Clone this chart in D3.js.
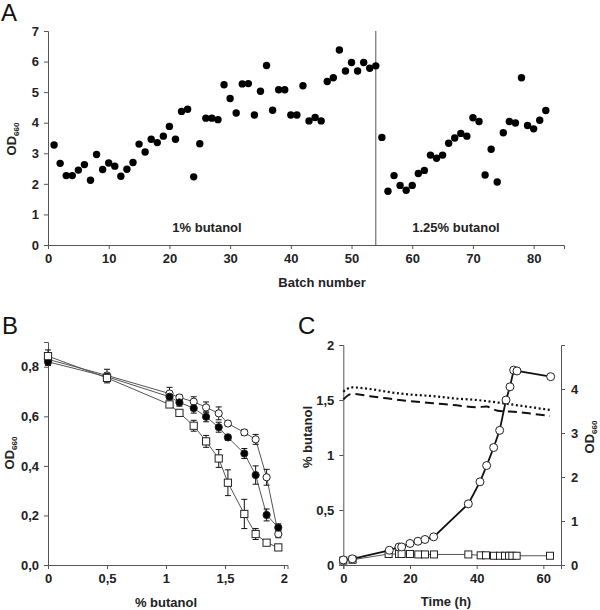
<!DOCTYPE html>
<html><head><meta charset="utf-8">
<script src="https://cdn.jsdelivr.net/npm/d3@7"></script>
<style>
body{margin:0;background:#fff;}
text{font-family:"Liberation Sans",Arial,sans-serif;}
</style></head>
<body><svg id="c" width="600" height="610"></svg>
<script>
// ---------- Panel A data ----------
const batchNumbers = d3.range(1, 83);
const batchOD = [3.27,2.67,2.27,2.27,2.45,2.63,2.12,2.96,2.47,2.68,2.58,2.25,2.48,2.70,3.30,3.04,3.46,3.35,3.56,3.88,
 3.46,4.37,4.44,2.23,3.31,4.15,4.15,4.10,5.24,4.79,4.32,5.27,5.28,4.25,5.03,5.87,4.41,5.08,5.08,4.25,
 4.25,5.21,4.06,4.17,4.06,5.35,5.47,6.38,5.69,5.97,5.69,5.97,5.78,5.86,3.52,1.76,2.27,1.95,1.79,1.95,
 2.34,2.44,2.94,2.84,2.94,3.33,3.50,3.65,3.56,4.16,4.04,2.29,3.13,2.06,3.67,4.04,3.99,5.47,3.91,3.80,
 4.08,4.40];
const switchBatch = 54;
const aTicksX = [0,10,20,30,40,50,60,70,80];
const aTicksY = [0,1,2,3,4,5,6,7];

// ---------- Panel B data ----------
const bButanol = [0,0.5,1.03,1.114,1.235,1.34,1.447,1.525,1.664,1.76,1.853,1.952];
const bOpen   = [0.83,0.765,0.692,0.676,0.659,0.636,0.612,0.571,0.535,0.507,0.354,0.125];
const bOpenErr= [0.02,0.025,0.025,0.01,0.02,0.022,0.026,0.01,0.012,0.02,0.032,0.015];
const bFilled = [0.82,0.76,0.679,0.656,0.633,0.598,0.556,0.515,0.45,0.363,0.202,0.151];
const bFilledErr=[0.015,0.015,0.02,0.015,0.02,0.02,0.02,0.012,0.02,0.037,0.024,0.015];
const bSquare = [0.843,0.755,0.648,0.614,0.562,0.499,0.43,0.332,0.206,0.125,0.09,0.071];
const bSquareErr=[0.025,0.02,0.012,0.01,0.022,0.024,0.036,0.052,0.059,0.022,0.01,0.01];
const bTicksX = [0,0.5,1,1.5,2];
const bTicksY = [0,0.2,0.4,0.6,0.8];

// ---------- Panel C data ----------
const cTime = [0,2.7,13.8,16.7,17.5,20,22.4,24.5,27.1,37.5,41,43,45.1,46.9,48.8,50,51.1,52.1,62.2];
const cODcircle = [0.115,0.14,0.335,0.41,0.41,0.49,0.54,0.58,0.64,1.39,1.89,2.26,2.67,3.06,3.75,4.05,4.43,4.41,4.28];
const cTimeSq = [0,2.8,13.6,16.7,17.5,20,22.5,24.5,27.2,37.5,41.2,42.8,45.2,47,48.5,49.7,50.7,52,62];
const cODsquare = [0.1,0.12,0.25,0.25,0.25,0.25,0.24,0.24,0.24,0.24,0.22,0.22,0.21,0.21,0.21,0.21,0.21,0.21,0.21];
const cDotT = [0,2.5,8,13,20,27,33,40,48,55,62];
const cDotV = [1.575,1.615,1.6,1.575,1.55,1.535,1.515,1.5,1.47,1.44,1.41];
const cDashT = [0,2.5,8,13,20,27,33,40,43,46,52,62];
const cDashV = [1.505,1.555,1.535,1.515,1.49,1.47,1.455,1.435,1.44,1.405,1.39,1.355];
const cTicksX = [0,20,40,60];
const cTicksYL = [0,0.5,1,1.5,2];
const cTicksYR = [0,1,2,3,4];

const svg = d3.select("#c");
const axisCol = "#555", txtCol = "#222";
const fmtComma = d => String(d).replace(".", ",");
const fmtInt = d => String(d);
const FS = 13;

function styleAxis(g){
  g.select(".domain").attr("stroke", axisCol).attr("stroke-width",1);
  g.selectAll(".tick line").attr("stroke", axisCol);
  g.selectAll(".tick text").attr("fill", txtCol).attr("font-size", FS).attr("font-weight","bold")
    .attr("font-family","Liberation Sans, Arial, sans-serif");
}
function odLabel(x, y, rot){
  const t = svg.append("text").attr("transform",`translate(${x},${y}) rotate(${rot})`)
    .attr("text-anchor","middle").attr("fill",txtCol).attr("font-weight","bold").attr("font-size",FS);
  t.append("tspan").text("OD");
  t.append("tspan").attr("font-size",8).attr("dy",3).text("660");
}
function panelLetter(s, x, y){
  svg.append("text").attr("x",x).attr("y",y).attr("font-size",24).attr("fill","#111").text(s);
}
function title(s, x, y){
  svg.append("text").attr("x",x).attr("y",y).attr("text-anchor","middle").attr("font-weight","bold")
    .attr("font-size",FS).attr("fill",txtCol).text(s);
}

// ================= Panel A =================
{
  const x = d3.scaleLinear().domain([0,85]).range([48,564]);
  const y = d3.scaleLinear().domain([0,7]).range([245,31]);
  const gx = svg.append("g").attr("transform","translate(0,245)")
    .call(d3.axisBottom(x).tickValues(aTicksX).tickFormat(fmtInt).tickSize(4).tickPadding(5));
  styleAxis(gx);
  const gy = svg.append("g").attr("transform","translate(48,0)")
    .call(d3.axisLeft(y).tickValues(aTicksY).tickFormat(fmtInt).tickSize(4).tickPadding(5));
  styleAxis(gy);
  svg.append("line").attr("x1",x(switchBatch)).attr("x2",x(switchBatch)).attr("y1",y(7)).attr("y2",y(0))
    .attr("stroke",axisCol).attr("stroke-width",1);
  svg.append("g").selectAll("circle").data(batchNumbers).join("circle")
    .attr("cx",d=>x(d)).attr("cy",(d,i)=>y(batchOD[i])).attr("r",3.7).attr("fill","#000");
  title("1% butanol", 207, 232);
  title("1.25% butanol", 456, 232);
  title("Batch number", 322, 287);
  odLabel(16, 139, -90);
  panelLetter("A", 1, 21);
}

// ================= Panel B =================
{
  const x = d3.scaleLinear().domain([0,2.03]).range([48,287.5]);
  const y = d3.scaleLinear().domain([0,0.9]).range([565,342]);
  const gx = svg.append("g").attr("transform","translate(0,565)")
    .call(d3.axisBottom(x).tickValues(bTicksX).tickFormat(fmtComma).tickSize(4).tickPadding(5));
  styleAxis(gx);
  const gy = svg.append("g").attr("transform","translate(48,0)")
    .call(d3.axisLeft(y).tickValues(bTicksY).tickFormat(d=>d3.format(".1f")(d).replace(".",",")).tickSize(4).tickPadding(5));
  styleAxis(gy);
  const series = [
    {v:bOpen, e:bOpenErr, type:"circle", fill:"#fff"},
    {v:bFilled, e:bFilledErr, type:"circle", fill:"#000"},
    {v:bSquare, e:bSquareErr, type:"square", fill:"#fff"}
  ];
  const line = d3.line().x((d,i)=>x(bButanol[i])).y(d=>y(d));
  series.forEach(s=>{
    svg.append("path").attr("d",line(s.v)).attr("fill","none").attr("stroke","#555").attr("stroke-width",1);
  });
  series.forEach(s=>{
    const g = svg.append("g");
    s.v.forEach((v,i)=>{
      const cx = x(bButanol[i]);
      g.append("line").attr("x1",cx).attr("x2",cx).attr("y1",y(v-s.e[i])).attr("y2",y(v+s.e[i])).attr("stroke","#111");
      [v-s.e[i], v+s.e[i]].forEach(w=>g.append("line").attr("x1",cx-3).attr("x2",cx+3).attr("y1",y(w)).attr("y2",y(w)).attr("stroke","#111"));
    });
  });
  series.forEach(s=>{
    const g = svg.append("g");
    s.v.forEach((v,i)=>{
      const cx = x(bButanol[i]), cy = y(v);
      if(s.type==="circle") g.append("circle").attr("cx",cx).attr("cy",cy).attr("r",3.6).attr("fill",s.fill).attr("stroke","#222");
      else g.append("rect").attr("x",cx-3.6).attr("y",cy-3.6).attr("width",7.2).attr("height",7.2).attr("fill",s.fill).attr("stroke","#222");
    });
  });
  title("% butanol", 166, 607);
  odLabel(14, 453, -90);
  panelLetter("B", 2, 334);
}

// ================= Panel C =================
{
  const x = d3.scaleLinear().domain([0,65.3]).range([343.3,561]);
  const yL = d3.scaleLinear().domain([0,2]).range([565,345]);
  const yR = d3.scaleLinear().domain([0,5]).range([565,345]);
  const gx = svg.append("g").attr("transform","translate(0,565)")
    .call(d3.axisBottom(x).tickValues(cTicksX).tickFormat(fmtInt).tickSize(4).tickPadding(5));
  styleAxis(gx);
  const gy = svg.append("g").attr("transform","translate(343.3,0)")
    .call(d3.axisLeft(yL).tickValues(cTicksYL).tickFormat(fmtComma).tickSize(4).tickPadding(5));
  styleAxis(gy);
  const gr = svg.append("g").attr("transform","translate(561,0)")
    .call(d3.axisRight(yR).tickValues(cTicksYR).tickFormat(fmtInt).tickSize(4).tickPadding(6));
  styleAxis(gr);

  const lineDot = d3.line().curve(d3.curveMonotoneX).x((d,i)=>x(cDotT[i])).y(d=>yL(d));
  const lineDash = d3.line().curve(d3.curveMonotoneX).x((d,i)=>x(cDashT[i])).y(d=>yL(d));
  svg.append("path").attr("d",lineDot(cDotV)).attr("fill","none").attr("stroke","#111")
    .attr("stroke-width",2.2).attr("stroke-dasharray","2,2.6");
  svg.append("path").attr("d",lineDash(cDashV)).attr("fill","none").attr("stroke","#111")
    .attr("stroke-width",2).attr("stroke-dasharray","9,5");

  const lineSq = d3.line().x((d,i)=>x(cTimeSq[i])).y(d=>yR(d));
  svg.append("path").attr("d",lineSq(cODsquare)).attr("fill","none").attr("stroke","#555").attr("stroke-width",1);
  svg.append("g").selectAll("rect").data(cODsquare).join("rect")
    .attr("x",(d,i)=>x(cTimeSq[i])-3.5).attr("y",d=>yR(d)-3.5).attr("width",7).attr("height",7)
    .attr("fill","#fff").attr("stroke","#222");

  const lineC = d3.line().x((d,i)=>x(cTime[i])).y(d=>yR(d));
  svg.append("path").attr("d",lineC(cODcircle)).attr("fill","none").attr("stroke","#111").attr("stroke-width",1.8);
  svg.append("g").selectAll("circle").data(cODcircle).join("circle")
    .attr("cx",(d,i)=>x(cTime[i])).attr("cy",d=>yR(d)).attr("r",4)
    .attr("fill","#fff").attr("stroke","#222");

  title("Time (h)", 446, 606);
  svg.append("text").attr("transform","translate(312,437) rotate(-90)").attr("text-anchor","middle")
    .attr("font-weight","bold").attr("font-size",FS).attr("fill",txtCol).text("% butanol");
  odLabel(594, 437, -90);
  panelLetter("C", 298, 334);
}
</script></body></html>
